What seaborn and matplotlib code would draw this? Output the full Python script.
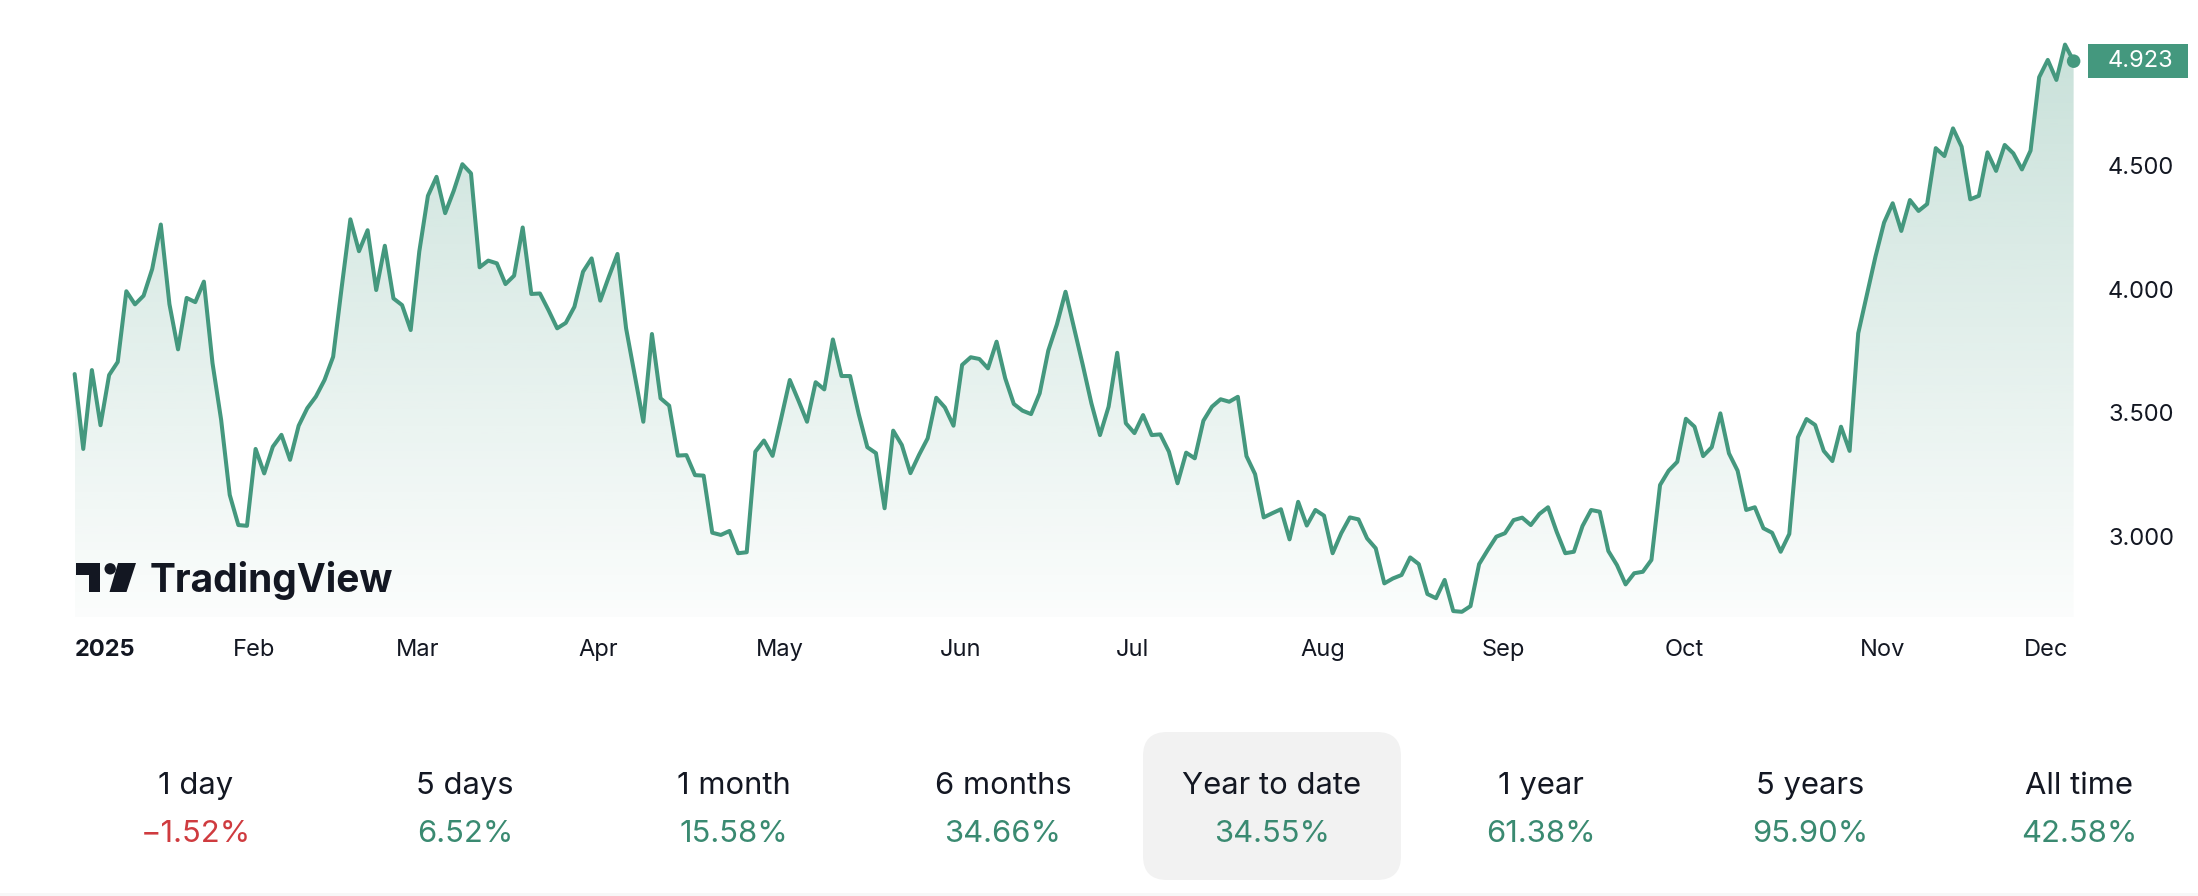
import numpy as np
import pandas as pd
import matplotlib
matplotlib.use("Agg")
import matplotlib.pyplot as plt
import matplotlib.colors as mcolors
import matplotlib.transforms as mtransforms
from matplotlib.patches import Polygon, Ellipse, FancyBboxPatch, Rectangle
import seaborn as sns

# ---------------- data ----------------
closes = [
    3.657, 3.354, 3.673, 3.450, 3.653, 3.706, 3.992, 3.939, 3.974, 4.082,
    4.262, 3.940, 3.757, 3.965, 3.948, 4.031, 3.701, 3.472, 3.168, 3.046,
    3.043, 3.354, 3.255, 3.363, 3.411, 3.310, 3.448, 3.519, 3.566, 3.633,
    3.727, 4.010, 4.283, 4.154, 4.239, 3.997, 4.176, 3.963, 3.936, 3.835,
    4.153, 4.378, 4.455, 4.308, 4.399, 4.506, 4.469, 4.089, 4.116, 4.105,
    4.021, 4.055, 4.250, 3.981, 3.983, 3.915, 3.842, 3.864, 3.929, 4.071,
    4.125, 3.954, 4.051, 4.143, 3.842, 3.653, 3.464, 3.819, 3.559, 3.529,
    3.327, 3.329, 3.248, 3.246, 3.015, 3.006, 3.022, 2.932, 2.936, 3.343,
    3.388, 3.326, 3.478, 3.633, 3.550, 3.464, 3.624, 3.595, 3.797, 3.649,
    3.649, 3.495, 3.361, 3.337, 3.114, 3.428, 3.370, 3.256, 3.330, 3.397,
    3.561, 3.522, 3.448, 3.694, 3.725, 3.718, 3.680, 3.788, 3.640, 3.536,
    3.509, 3.495, 3.579, 3.752, 3.858, 3.990, 3.842, 3.694, 3.539, 3.410,
    3.525, 3.743, 3.458, 3.418, 3.491, 3.410, 3.413, 3.343, 3.215, 3.339,
    3.316, 3.468, 3.525, 3.555, 3.545, 3.565, 3.325, 3.252, 3.077, 3.094,
    3.110, 2.988, 3.140, 3.044, 3.107, 3.084, 2.932, 3.013, 3.077, 3.069,
    2.992, 2.952, 2.810, 2.830, 2.844, 2.915, 2.888, 2.767, 2.750, 2.824,
    2.698, 2.695, 2.718, 2.888, 2.945, 2.999, 3.013, 3.066, 3.076, 3.046,
    3.091, 3.118, 3.019, 2.932, 2.938, 3.042, 3.107, 3.100, 2.941, 2.884,
    2.806, 2.851, 2.857, 2.905, 3.208, 3.266, 3.302, 3.476, 3.444, 3.325,
    3.361, 3.498, 3.336, 3.266, 3.107, 3.118, 3.033, 3.015, 2.938, 3.010,
    3.401, 3.475, 3.451, 3.346, 3.305, 3.444, 3.346, 3.822, 3.977, 4.132,
    4.270, 4.348, 4.236, 4.361, 4.317, 4.345, 4.571, 4.539, 4.651, 4.577,
    4.364, 4.378, 4.554, 4.479, 4.584, 4.550, 4.485, 4.561, 4.858, 4.928,
    4.847, 4.990, 4.923,
]
start_date = "2025-01-02"
market_holidays = ["2025-01-01", "2025-01-09", "2025-01-20", "2025-02-17",
                   "2025-04-18", "2025-05-26", "2025-06-19", "2025-07-04",
                   "2025-09-01", "2025-11-27", "2025-12-25"]
month_labels = ["2025", "Feb", "Mar", "Apr", "May", "Jun", "Jul", "Aug",
                "Sep", "Oct", "Nov", "Dec"]
y_ticks = [3.0, 3.5, 4.0, 4.5]
period_names = ["1 day", "5 days", "1 month", "6 months", "Year to date",
                "1 year", "5 years", "All time"]
period_changes = ["\u22121.52%", "6.52%", "15.58%", "34.66%", "34.55%",
                  "61.38%", "95.90%", "42.58%"]
selected_period = "Year to date"

# ---------------- style ----------------
W, H = 2198, 896
GREEN = "#44987e"
TXT = "#131722"
UP = "#3a8a71"
DOWN = "#cf3b3f"

sns.set_theme(style="white")
plt.rcParams["font.family"] = ["Inter", "DejaVu Sans"]

dates = pd.bdate_range(start=start_date, periods=len(closes), freq="C",
                       holidays=market_holidays)
df = pd.DataFrame({"date": dates, "close": closes})
df["i"] = np.arange(len(df))
month_start_idx = df.groupby(df["date"].dt.month)["i"].min().values

fig = plt.figure(figsize=(W / 100, H / 100), dpi=100)
fig.patch.set_facecolor("white")
ax = fig.add_axes([60 / W, 1 - 617 / H, (2090 - 60) / W, (617 - 10) / H])
ax.set_facecolor("white")

ymin, ymax = 2.674, 5.130

# gradient area fill under the line
poly = ax.fill_between(df["i"], df["close"], ymin, facecolor="none",
                       edgecolor="none", linewidth=0)
n = 256
rgba = np.zeros((n, 1, 4))
rgba[..., :3] = mcolors.to_rgb(GREEN)
rgba[..., 3] = np.linspace(0.29, 0.02, n)[:, None]
im = ax.imshow(rgba, extent=[df["i"].iloc[0], df["i"].iloc[-1], ymin, df["close"].max()],
               aspect="auto", origin="upper", interpolation="bilinear", zorder=1)
im.set_clip_path(poly.get_paths()[0], transform=ax.transData)

# line + last point
sns.lineplot(data=df, x="i", y="close", ax=ax, color=GREEN, linewidth=2.9,
             solid_joinstyle="round", solid_capstyle="round", zorder=3)
sns.scatterplot(data=df.tail(1), x="i", y="close", ax=ax, s=95, color=GREEN,
                edgecolor="none", zorder=4, legend=False)

ax.set_xlim(-1.7, 233.9)
ax.set_ylim(ymin, ymax)
for s in ax.spines.values():
    s.set_visible(False)
ax.set_xlabel("")
ax.set_ylabel("")
ax.grid(False)

ax.yaxis.tick_right()
ax.set_yticks(y_ticks)
ax.set_yticklabels([f"{v:.3f}" for v in y_ticks])
ax.tick_params(axis="y", length=0, pad=13, labelsize=17, labelcolor=TXT)

ax.set_xticks(month_start_idx)
ax.set_xticklabels(month_labels)
ax.tick_params(axis="x", length=0, pad=16, labelsize=17, labelcolor=TXT)
xlabels = ax.get_xticklabels()
xlabels[0].set_ha("left")
xlabels[0].set_fontweight("bold")
nudge = mtransforms.ScaledTranslation(7 / 100, 0, fig.dpi_scale_trans)
for lbl in xlabels[1:]:
    lbl.set_transform(lbl.get_transform() + nudge)

# last value badge
last = df["close"].iloc[-1]
trans = mtransforms.blended_transform_factory(fig.transFigure, ax.transData)
badge_h = 34 / 247.1
ax.add_patch(Rectangle((2088 / W, last - badge_h / 2), 100 / W, badge_h,
                       transform=trans, facecolor=GREEN, edgecolor="none",
                       clip_on=False, zorder=5))
ax.text(2108 / W, last, f"{last:.3f}", transform=trans, color="white",
        ha="left", va="center", fontsize=17, zorder=6, clip_on=False)

# TradingView watermark
def P(x, y):
    return (x / W, 1 - y / H)

fig.add_artist(Polygon([P(75.5, 563), P(100, 563), P(100, 592), P(88.7, 592),
                        P(88.7, 575), P(75.5, 575)], closed=True,
                       transform=fig.transFigure, facecolor=TXT, edgecolor="none"))
fig.add_artist(Ellipse(P(110.2, 568.8), 11.4 / W, 11.4 / H,
                       transform=fig.transFigure, facecolor=TXT, edgecolor="none"))
fig.add_artist(Polygon([P(118, 563), P(136, 563), P(126.5, 592), P(109.5, 592)],
                       closed=True, transform=fig.transFigure, facecolor=TXT,
                       edgecolor="none"))
fig.text(150 / W, 1 - 592 / H, "TradingView", fontsize=28, fontweight="bold",
         color=TXT, ha="left", va="baseline")

# period performance row
col0, col_step = 196, 269
sel = period_names.index(selected_period)
fig.add_artist(FancyBboxPatch((col0 + col_step * sel - 129, H - 880), 258, 148,
                              boxstyle="round,pad=0,rounding_size=24",
                              transform=mtransforms.IdentityTransform(),
                              facecolor="#f2f2f2", edgecolor="none"))
fig.add_artist(Rectangle((0, 0), W, 3, transform=mtransforms.IdentityTransform(),
                         facecolor="#f7f7f7", edgecolor="none"))
for k, (name, chg) in enumerate(zip(period_names, period_changes)):
    cx = (col0 + col_step * k) / W
    fig.text(cx, 1 - 794 / H, name, ha="center", va="baseline", fontsize=22.3,
             color=TXT)
    fig.text(cx, 1 - 842 / H, chg, ha="center", va="baseline", fontsize=22.3,
             color=DOWN if chg.startswith("\u2212") else UP)

fig.savefig("out.png", dpi=100)
